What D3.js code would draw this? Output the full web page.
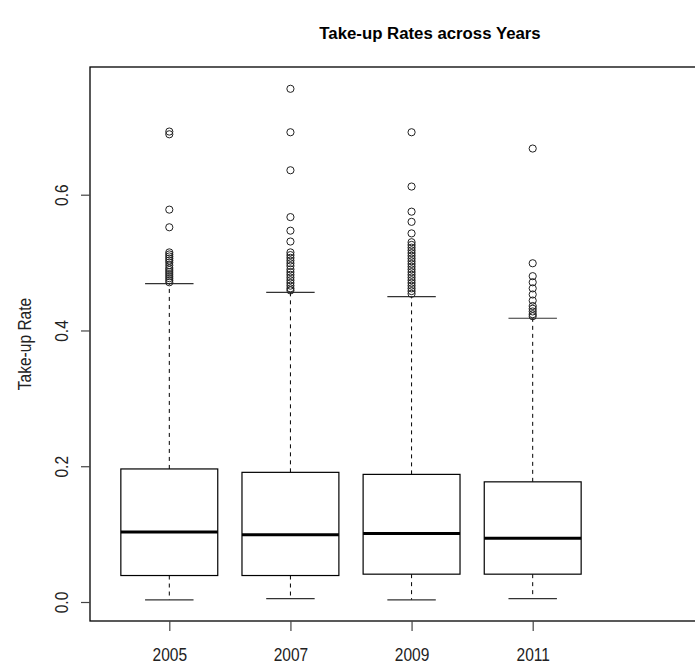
<!DOCTYPE html>
<html>
<head>
<meta charset="utf-8">
<script src="https://cdn.jsdelivr.net/npm/d3@7"></script>
<style>
  html, body { margin: 0; padding: 0; background: #fff; overflow: hidden; }
  svg { display: block; }
  text { font-family: "Liberation Sans", Arial, sans-serif; fill: #222; }
</style>
</head>
<body>
<svg id="chart" width="695" height="664"></svg>
<script>
// Take-up rate distribution per survey year
const years = ["2005", "2007", "2009", "2011"];
const whiskerLow  = [0.003, 0.005, 0.003, 0.005];
const q1          = [0.039, 0.039, 0.041, 0.041];
const median      = [0.103, 0.099, 0.101, 0.094];
const q3          = [0.196, 0.191, 0.188, 0.177];
const whiskerHigh = [0.469, 0.456, 0.450, 0.418];
const outliers = [
  [0.693, 0.689, 0.578, 0.552, 0.515, 0.512, 0.509, 0.506, 0.503, 0.500, 0.496,
   0.492, 0.489, 0.486, 0.483, 0.480, 0.477, 0.474, 0.471],
  [0.756, 0.692, 0.636, 0.567, 0.547, 0.531, 0.515, 0.511, 0.507, 0.503, 0.499,
   0.495, 0.490, 0.486, 0.482, 0.478, 0.474, 0.470, 0.466, 0.462, 0.459],
  [0.692, 0.612, 0.575, 0.560, 0.543, 0.530, 0.526, 0.522, 0.518, 0.514, 0.510,
   0.506, 0.502, 0.498, 0.494, 0.490, 0.486, 0.482, 0.478, 0.474, 0.470, 0.466,
   0.462, 0.458, 0.454],
  [0.668, 0.499, 0.480, 0.471, 0.462, 0.453, 0.444, 0.436, 0.432, 0.428, 0.424,
   0.421]
];
const yTicks = [0.0, 0.2, 0.4, 0.6];

const svg = d3.select("#chart");
// plot region runs past the right edge of the canvas
const frame = { left: 90, right: 770, top: 67, bottom: 621 };

const x = d3.scaleLinear().domain([0, 3]).range([169.3, 532.7]);
const y = d3.scaleLinear().domain([0, 0.6]).range([602, 194.7]);
const boxW = (x(1) - x(0)) * 0.8;
const capW = boxW / 2;

const labelSize = "18.5px";
const narrow = "scale(0.84,1)";

// title
svg.append("text")
  .attr("x", (frame.left + frame.right) / 2).attr("y", 39)
  .attr("text-anchor", "middle")
  .style("font-weight", "bold").style("font-size", "16.8px")
  .style("fill", "#000")
  .text("Take-up Rates across Years");

// plot frame
svg.append("rect")
  .attr("x", frame.left).attr("y", frame.top)
  .attr("width", frame.right - frame.left).attr("height", frame.bottom - frame.top)
  .attr("fill", "none").attr("stroke", "#000").attr("stroke-width", 1.3);

// y axis
const yAxis = svg.append("g")
  .attr("transform", `translate(${frame.left},0)`)
  .call(d3.axisLeft(y).tickValues(yTicks).tickFormat(d3.format(".1f")).tickSize(9));
yAxis.select(".domain").remove();
yAxis.selectAll(".tick line").attr("stroke", "#444").attr("stroke-width", 1.2);
yAxis.selectAll(".tick text")
  .attr("x", 0).attr("y", 0)
  .attr("transform", `translate(-22,0) rotate(-90) ${narrow}`)
  .attr("text-anchor", "middle")
  .attr("dy", null)
  .style("font-size", labelSize).style("font-family", "Liberation Sans, Arial, sans-serif")
  .style("fill", "#222");

svg.append("text")
  .attr("transform", `translate(31,${(frame.top + frame.bottom) / 2}) rotate(-90) ${narrow}`)
  .attr("text-anchor", "middle")
  .style("font-size", labelSize)
  .text("Take-up Rate");

// x axis
const xAxis = svg.append("g")
  .attr("transform", `translate(0,${frame.bottom})`)
  .call(d3.axisBottom(x).tickValues([0, 1, 2, 3]).tickFormat(i => years[i]).tickSize(10).tickPadding(17));
xAxis.select(".domain").remove();
xAxis.selectAll(".tick line").attr("stroke", "#444").attr("stroke-width", 1.2);
xAxis.selectAll(".tick text")
  .attr("transform", narrow)
  .style("font-size", labelSize).style("font-family", "Liberation Sans, Arial, sans-serif")
  .style("fill", "#222");

// boxes
const g = svg.append("g");
years.forEach((yr, i) => {
  const cx = x(i);
  // dashed whiskers
  g.append("line")
    .attr("x1", cx).attr("x2", cx).attr("y1", y(q3[i])).attr("y2", y(whiskerHigh[i]))
    .attr("stroke", "#000").attr("stroke-dasharray", "4,4");
  g.append("line")
    .attr("x1", cx).attr("x2", cx).attr("y1", y(q1[i])).attr("y2", y(whiskerLow[i]))
    .attr("stroke", "#000").attr("stroke-dasharray", "4,4");
  // caps
  [whiskerHigh[i], whiskerLow[i]].forEach(v => {
    g.append("line")
      .attr("x1", cx - capW / 2).attr("x2", cx + capW / 2)
      .attr("y1", y(v)).attr("y2", y(v))
      .attr("stroke", "#333").attr("stroke-width", 1.2);
  });
  // box
  g.append("rect")
    .attr("x", cx - boxW / 2).attr("y", y(q3[i]))
    .attr("width", boxW).attr("height", y(q1[i]) - y(q3[i]))
    .attr("fill", "#fff").attr("stroke", "#000").attr("stroke-width", 1.2);
  // median
  g.append("line")
    .attr("x1", cx - boxW / 2).attr("x2", cx + boxW / 2)
    .attr("y1", y(median[i])).attr("y2", y(median[i]))
    .attr("stroke", "#000").attr("stroke-width", 3);
  // outliers
  g.selectAll(null).data(outliers[i]).enter().append("circle")
    .attr("cx", cx).attr("cy", d => y(d)).attr("r", 3.6)
    .attr("fill", "none").attr("stroke", "#222").attr("stroke-width", 1);
});
</script>
</body>
</html>
